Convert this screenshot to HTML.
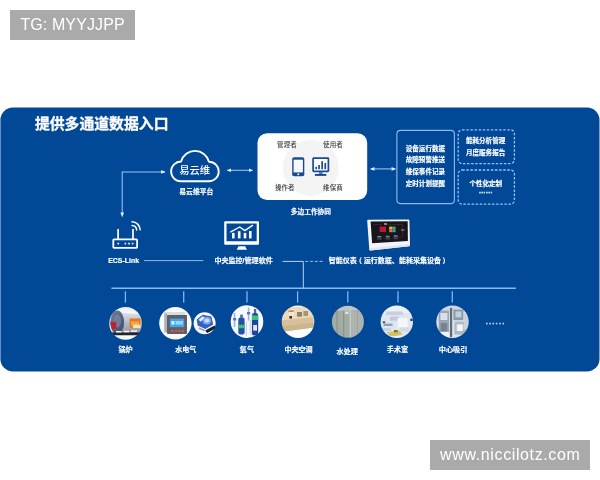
<!DOCTYPE html>
<html lang="zh-CN">
<head>
<meta charset="utf-8">
<title>提供多通道数据入口</title>
<style>
html,body{margin:0;padding:0;background:#fff;}
body{width:600px;height:480px;position:relative;overflow:hidden;font-family:"Liberation Sans","Noto Sans CJK SC",sans-serif;}
.badge{will-change:transform;position:absolute;background:#aaaaaa;color:#fff;font-size:16px;line-height:30px;text-align:center;white-space:nowrap;}
#b1{left:10px;top:10px;width:125px;height:30px;letter-spacing:0.11px;text-indent:0.1px;}
#b2{left:430px;top:440px;width:160px;height:30px;letter-spacing:0.62px;text-indent:0.6px;}
#diagram{position:absolute;left:0;top:0;width:600px;height:480px;will-change:transform;}
svg text{font-family:"Liberation Sans","Noto Sans CJK SC",sans-serif;}
.w{fill:#fff;font-weight:bold;text-anchor:middle;stroke:#fff;stroke-width:0.18px;paint-order:stroke;}
.g{fill:#404040;text-anchor:middle;font-weight:500;letter-spacing:0.1px;}
</style>
</head>
<body>
<svg id="diagram" width="600" height="480" viewBox="0 0 600 480">
  <defs>
    <marker id="ah" viewBox="0 0 6 6" refX="5.2" refY="3" markerWidth="4.6" markerHeight="4.4" orient="auto-start-reverse" markerUnits="userSpaceOnUse">
      <path d="M0,0.5 L6,3 L0,5.5 Z" fill="#e2eefe"/>
    </marker>
  </defs>
  <!-- panel -->
  <rect id="panel" x="0.4" y="107.5" width="599.1" height="264" rx="12.5" ry="12.5" fill="#014897"/>
  <text x="34.9" y="128.6" font-size="14.85" font-weight="bold" fill="#fff" stroke="#fff" stroke-width="0.3">提供多通道数据入口</text>


  <!-- connectors (top) -->
  <g fill="none" stroke="#9ac6fa" stroke-width="1.05">
    <path d="M165,171.9 H122.2 V216.4" marker-start="url(#ah)" marker-end="url(#ah)"/>
    <path d="M227.3,170.3 H252.5" marker-start="url(#ah)" marker-end="url(#ah)"/>
    <path d="M370.6,168.9 H395.4" marker-start="url(#ah)" marker-end="url(#ah)"/>
  </g>
  <!-- cloud -->
  <path d="M180.90,181.30 A9.9,9.9 0 1,1 181.11,161.50 A14.4,14.4 0 0,1 208.94,161.70 A9.8,9.8 0 1,1 208.90,181.30 Z" fill="none" stroke="#ffffff" stroke-width="1.9" stroke-linejoin="round"/>
  <text x="194.6" y="173.7" font-size="10.3" font-weight="500" fill="#fff" text-anchor="middle">易云维</text>
  <text class="w" x="196.3" y="193.5" font-size="6.8">易云维平台</text>

  <!-- collaboration card -->
  <rect x="257.5" y="133.2" width="109.7" height="66.8" rx="9.6" ry="9.6" fill="#ffffff"/>
  <circle cx="310.8" cy="168" r="28" fill="#f4f4f5"/>
  <text class="g" x="287" y="147.4" font-size="6.5">管理者</text>
  <text class="g" x="333" y="147.4" font-size="6.5">使用者</text>
  <text class="g" x="284.8" y="189.8" font-size="6.5">操作者</text>
  <text class="g" x="333" y="189.8" font-size="6.5">维保商</text>
  <!-- phone icon -->
  <g>
    <rect x="292.2" y="157.3" width="12.1" height="18.9" rx="1.8" fill="#1b4a95"/>
    <rect x="293.6" y="159.7" width="9.3" height="12.7" fill="#f6f8fc"/>
    <circle cx="298.25" cy="174.3" r="0.95" fill="#f6f8fc"/>
  </g>
  <!-- monitor icon -->
  <g>
    <rect x="313.1" y="158.1" width="15.3" height="13.2" rx="0.6" fill="#fbfcfe" stroke="#1b4a95" stroke-width="1.7"/>
    <rect x="315.3" y="166.9" width="1.7" height="2.3" fill="#1b4a95"/>
    <rect x="318.2" y="165" width="1.7" height="4.2" fill="#1b4a95"/>
    <rect x="321.3" y="161.2" width="1.7" height="8" fill="#1b4a95"/>
    <rect x="324.4" y="163" width="1.7" height="6.2" fill="#1b4a95"/>
    <rect x="319" y="172.1" width="3.6" height="2.2" fill="#4f74ae"/>
    <rect x="314.9" y="174" width="11.4" height="1.9" fill="#1b4a95"/>
  </g>
  <text class="w" x="310.9" y="214.3" font-size="6.7">多边工作协同</text>

  <!-- feature list -->
  <rect x="396.9" y="130.4" width="57.5" height="73.2" rx="3.5" ry="3.5" fill="none" stroke="#8fb8f0" stroke-width="1.1"/>
  <text class="w" x="425.4" y="150.8" font-size="6.55">设备运行数据</text>
  <text class="w" x="425.4" y="162.2" font-size="6.55">故障预警推送</text>
  <text class="w" x="425.4" y="174.1" font-size="6.55">维保事件记录</text>
  <text class="w" x="425.4" y="186" font-size="6.55">定时计划提醒</text>

  <rect x="458.2" y="129.8" width="56.2" height="33.8" rx="4" ry="4" fill="none" stroke="#93c3fb" stroke-width="1.3" stroke-dasharray="2.5 1.6"/>
  <text class="w" x="485.6" y="143" font-size="6.55">能耗分析管理</text>
  <text class="w" x="485.6" y="155" font-size="6.55">月度服务报告</text>
  <rect x="458.2" y="170" width="56.2" height="34.2" rx="4" ry="4" fill="none" stroke="#93c3fb" stroke-width="1.3" stroke-dasharray="2.5 1.6"/>
  <text class="w" x="485.8" y="185.5" font-size="6.55">个性化定制</text>
  <text class="w" x="485.9" y="195" font-size="6.6" letter-spacing="0.1" fill="#cfe3fd" style="fill:#d4e6fd;stroke:#d4e6fd;stroke-width:0.4px">······</text>

  <!-- router icon -->
  <g fill="none" stroke="#ffffff" stroke-width="1.7" stroke-linecap="round">
    <rect x="113.3" y="239.3" width="23.8" height="8.5" rx="0.7" stroke-width="1.8"/>
    <path d="M118.1,238.4 V229.6 M133,238.4 V229.6"/>
    <path d="M132.2,225.5 A4.7,4.7 0 0,1 136.6,230" stroke-width="1.5"/>
    <path d="M132,221.7 A8.5,8.5 0 0,1 140.2,229.8" stroke-width="1.5"/>
  </g>
  <g fill="#ffffff">
    <rect x="117.5" y="242.8" width="1.6" height="1.6"/>
    <rect x="124.6" y="242.8" width="1.6" height="1.6"/>
    <rect x="128.2" y="242.8" width="1.6" height="1.6"/>
    <rect x="131.8" y="242.8" width="1.6" height="1.6"/>
  </g>
  <text class="w" x="123.7" y="263" font-size="6.9" letter-spacing="0.05">ECS-Link</text>

  <!-- monitor icon -->
  <g>
    <path d="M225.2,221.2 H258 Q259,221.2 259,222.2 V243.8 Q259,244.8 258,244.8 H225.2 Q224.2,244.8 224.2,243.8 V222.2 Q224.2,221.2 225.2,221.2 Z M226.5,223.5 V241.3 H256.7 V223.5 Z" fill="#ffffff" fill-rule="evenodd"/>
    <path d="M238.5,246.2 H245.1 L247,249.7 H236.7 Z" fill="#ffffff"/>
    <rect x="232" y="232.9" width="2.6" height="5.5" fill="#fff"/>
    <rect x="237.9" y="231.2" width="2.6" height="7.2" fill="#fff"/>
    <rect x="243.7" y="232.9" width="2.6" height="5.5" fill="#fff"/>
    <rect x="249" y="231" width="2.6" height="7.4" fill="#fff"/>
    <path d="M230.8,231.9 L239.7,227 L244.8,230.6 L252.5,225.4" fill="none" stroke="#fff" stroke-width="1.4" stroke-linejoin="round" stroke-linecap="round"/>
  </g>
  <text class="w" x="243.6" y="263.4" font-size="7.05">中央监控/管理软件</text>

  <!-- meter device -->
  <g filter="url(#bl2)">
    <path d="M368.2,219.8 L408.4,219.5 Q409.3,219.5 409.4,220.5 L410,245.2 Q410,246.2 409,246.3 L370.6,250.5 Q369.5,250.6 369.3,249.5 L367.2,220.9 Q367.1,219.8 368.2,219.8 Z" fill="#f3f5fa"/>
    <path d="M369.7,248.2 L410,244 L410,245.2 Q410,246.2 409,246.3 L370.6,250.5 Q369.5,250.6 369.3,249.5 Z" fill="#dfe4ee"/>
    <path d="M370.6,221.6 L407.7,221.3 L407.9,241 L372.1,243.3 Z" fill="#17181e"/>
    <rect x="379.6" y="226.6" width="6.4" height="5.4" fill="#b81d33"/>
    <rect x="389.2" y="226.6" width="3.2" height="3" fill="#f0b428"/>
    <rect x="392.4" y="226.6" width="3.2" height="3" fill="#38b854"/>
    <rect x="389.2" y="229.6" width="3.2" height="2.6" fill="#e8703a"/>
    <rect x="392.4" y="229.6" width="3.2" height="2.6" fill="#3a98e4"/>
    <rect x="377" y="236" width="4.6" height="3.8" fill="#3b3e48"/>
    <rect x="385.4" y="235.8" width="4.6" height="3.8" fill="#3b3e48"/>
    <rect x="393.4" y="235.4" width="4.6" height="3.8" fill="#3b3e48"/>
    <rect x="377.6" y="236" width="3.4" height="1" fill="#8a8e98"/>
    <rect x="386" y="235.8" width="3.4" height="1" fill="#8a8e98"/>
    <rect x="394" y="235.4" width="3.4" height="1" fill="#8a8e98"/>
    <path d="M373.6,224.6 H382 M386,224.6 H402.6 V229 M402.6,231 V237 H398.6" fill="none" stroke="#6a2a30" stroke-width="0.5"/>
    <rect x="384" y="223.4" width="3" height="1.2" fill="#c8ccd4"/>
    <rect x="401" y="229" width="3.4" height="2" fill="#5a5e68"/>
  </g>
  <text class="w" x="328.7" y="263.4" font-size="7.03" style="text-anchor:start">智能仪表<tspan dx="-1.7">（</tspan><tspan dx="1.7">运行数据、能耗采集设备</tspan><tspan dx="1.6">）</tspan></text>

  <!-- connectors (mid) -->
  <g fill="none" stroke="#b9d3f7" stroke-width="0.8">
    <path d="M144,260.6 H203.4"/>
    <path d="M282.6,261.4 H303.3 V288" stroke="#cfe2fc" stroke-width="0.9"/>
    <path d="M305.2,261.4 H322.6" stroke="#a9cdfb" stroke-dasharray="3 1.8" stroke-width="0.9"/>
  </g>


  <!-- bus -->
  <g fill="none" stroke="#7fb6f9" stroke-width="1.3">
    <path d="M111.4,288.2 H515.8" stroke="#86baf9" stroke-width="1.5"/>
    <path d="M125.4,291.3 V302.6"/>
    <path d="M183.7,291.3 V302.6"/>
    <path d="M247,291.3 V302.6"/>
    <path d="M297.6,291.3 V302.6"/>
    <path d="M347.8,291.3 V302.6"/>
    <path d="M398,291.3 V302.6"/>
    <path d="M452.3,291.3 V302.6"/>
  </g>
  <defs>
    <filter id="bl2" x="-10%" y="-10%" width="120%" height="120%"><feGaussianBlur stdDeviation="0.35"/></filter>
    <filter id="bl" x="-10%" y="-10%" width="120%" height="120%"><feGaussianBlur stdDeviation="0.6"/></filter>
    <linearGradient id="gBody" x1="0" y1="0" x2="0" y2="1"><stop offset="0" stop-color="#e6e8ed"/><stop offset="0.45" stop-color="#bcc0ca"/><stop offset="1" stop-color="#8c909a"/></linearGradient>
    <linearGradient id="gCap" x1="0" y1="0" x2="1" y2="1"><stop offset="0" stop-color="#76819a"/><stop offset="1" stop-color="#3b4966"/></linearGradient>
    <clipPath id="c1"><circle cx="125.6" cy="323.4" r="16.3"/></clipPath>
    <clipPath id="c2"><circle cx="175.4" cy="323.3" r="16.2"/></clipPath>
    <clipPath id="c3"><circle cx="204.6" cy="323.3" r="11"/></clipPath>
    <clipPath id="c4"><circle cx="247" cy="321.6" r="16.3"/></clipPath>
    <clipPath id="c5"><circle cx="298" cy="321.7" r="16.3"/></clipPath>
    <clipPath id="c6"><circle cx="347.9" cy="321.7" r="16"/></clipPath>
    <clipPath id="c7"><circle cx="396.8" cy="321.7" r="16.2"/></clipPath>
    <clipPath id="c8"><circle cx="452.5" cy="321.8" r="16.2"/></clipPath>
  </defs>
  <!-- boiler -->
  <g clip-path="url(#c1)"><g filter="url(#bl)">
    <rect x="108" y="306" width="36" height="36" fill="#ecf1f8"/>
    <path d="M118,310.6 L143,314.2 L143,332.4 L118,334.6 Z" fill="url(#gBody)"/>
    <path d="M118,309.8 L134,310.6 L143,314.4 L121,312.8 Z" fill="#f4f6f9"/>
    <ellipse cx="117.2" cy="322.4" rx="6.9" ry="11.8" fill="url(#gCap)"/>
    <ellipse cx="117.4" cy="321" rx="3.6" ry="6.4" fill="#7c879f" opacity="0.7"/>
    <rect x="129.6" y="318.4" width="10.8" height="9.4" fill="#e27a26"/>
    <rect x="131" y="321.4" width="8" height="4.4" fill="#f6a63c"/>
    <rect x="133" y="324.6" width="7.6" height="3.4" fill="#f5e2b4"/>
    <path d="M110,322.4 L116,321.8 L116.4,328.4 L112,329.6 Z" fill="#c2202f"/>
    <rect x="110" y="332.4" width="33" height="3" fill="#23262f"/>
    <rect x="116" y="331" width="5.6" height="1.5" fill="#f6f6f6"/>
    <rect x="123.6" y="330.8" width="5.6" height="1.5" fill="#f6f6f6"/>
    <rect x="131" y="330.4" width="6" height="1.5" fill="#f6f6f6"/>
    <rect x="114" y="335.6" width="26" height="5" fill="#f6f8fc"/>
  </g></g>
  <!-- power meter -->
  <g clip-path="url(#c2)"><g filter="url(#bl)">
    <rect x="158" y="306" width="35" height="35" fill="#fafbfc"/>
    <rect x="164.2" y="312" width="21" height="4" fill="#d9dce0"/>
    <rect x="164.2" y="313.4" width="2.8" height="19" fill="#aeb2b9"/>
    <rect x="167" y="315" width="20" height="19" rx="0.8" fill="#5d6067"/>
    <rect x="169.8" y="318.6" width="14.4" height="8.6" fill="#3fa6ee"/>
    <rect x="171.4" y="321" width="3" height="3.6" fill="#d7efff"/>
    <rect x="175.6" y="321" width="7.4" height="3.6" fill="#9ad4ff"/>
    <rect x="171" y="329.8" width="2.3" height="2.1" fill="#e4573f"/>
    <rect x="174.6" y="329.8" width="2.3" height="2.1" fill="#e4573f"/>
    <rect x="178.2" y="329.8" width="2.3" height="2.1" fill="#e4573f"/>
    <rect x="181.8" y="329.8" width="2.3" height="2.1" fill="#e4573f"/>
  </g></g>
  <!-- water meter -->
  <g clip-path="url(#c3)"><g filter="url(#bl)">
    <rect x="192" y="311" width="26" height="26" fill="#f8fafd"/>
    <path d="M196.6,319.6 L202.6,314.8 L211.4,316.6 L213.2,324.4 L205.4,329 L197.6,325.6 Z" fill="#3560c4"/>
    <ellipse cx="206.8" cy="320.8" rx="4.3" ry="3.7" fill="#7fa6ec"/>
    <ellipse cx="207" cy="320.6" rx="2.4" ry="2" fill="#c9dcfa"/>
    <path d="M198.4,319.8 L202.6,316.2 L204.8,317.6 L200.8,321.8 Z" fill="#dfe9fb"/>
    <path d="M205.2,330.4 L214.4,325.4 L216,328.2 L207.2,333 Z" fill="#1a1f2c"/>
    <path d="M199,327 L205,330 L204.6,331.6 L198.6,329 Z" fill="#8fa4c8"/>
  </g></g>
  <!-- oxygen -->
  <g clip-path="url(#c4)"><g filter="url(#bl)">
    <rect x="229" y="304" width="36" height="36" fill="#f8fafe"/>
    <rect x="233.8" y="313" width="1.6" height="14" fill="#9db2e2"/>
    <rect x="233" y="318" width="3.2" height="2.4" fill="#5a74be"/>
    <rect x="247.8" y="307.6" width="1.6" height="13" fill="#9db2e2"/>
    <rect x="247" y="312" width="3.2" height="2.4" fill="#5a74be"/>
    <rect x="238.3" y="317.6" width="6.3" height="17" rx="2" fill="#2650a8"/>
    <rect x="238.3" y="324.8" width="6.3" height="3.4" fill="#36c47a"/>
    <rect x="240.2" y="314.6" width="2.6" height="3.6" fill="#4a68b8"/>
    <rect x="251.9" y="313" width="6.3" height="22.6" rx="2.4" fill="#1f46a0"/>
    <rect x="251.9" y="315.4" width="6.3" height="4.6" fill="#36c47a"/>
    <rect x="253.2" y="325" width="3.8" height="5.6" fill="#e3e9f6"/>
    <rect x="253.9" y="309" width="2.3" height="4.2" fill="#56668c"/>
    <rect x="245.8" y="322" width="1.1" height="14" fill="#c3cfec"/>
    <rect x="249.6" y="320" width="1.1" height="15" fill="#c3cfec"/>
  </g></g>
  <!-- chiller -->
  <g clip-path="url(#c5)"><g filter="url(#bl)">
    <rect x="280" y="304" width="36" height="36" fill="#fcfcfc"/>
    <path d="M280,308 L308,306 L313,311 L313,319 L280,322 Z" fill="#ead9bb"/>
    <path d="M280,320.4 L313.6,317 L313.6,327.6 L284,331.4 L280,331 Z" fill="#d8c19a"/>
    <path d="M282,326.4 L313.6,322.6 L313.6,327.6 L284,331.4 Z" fill="#ccb48c"/>
    <rect x="297" y="312" width="5" height="4.6" fill="#8d7f6b"/>
    <rect x="303.4" y="311" width="4.6" height="5" fill="#a39580"/>
    <rect x="289.4" y="316" width="2.6" height="2.6" fill="#3a3430"/>
    <rect x="288.6" y="310.4" width="5" height="1.6" fill="#dc7464"/>
    <rect x="288.6" y="312" width="5.6" height="3.6" fill="#f2e8d6"/>
  </g></g>
  <!-- water treatment -->
  <g clip-path="url(#c6)"><g filter="url(#bl)">
    <rect x="330" y="304" width="36" height="36" fill="#a3aba5"/>
    <rect x="330" y="304" width="36" height="6.6" fill="#bdc5c6"/>
    <rect x="336.4" y="311" width="1.3" height="27" fill="#8c948e"/>
    <rect x="343" y="311" width="1.3" height="27" fill="#8c948e"/>
    <rect x="345" y="311.6" width="3.6" height="2.4" fill="#d9dfe0"/>
    <rect x="349.6" y="307" width="1.7" height="32" fill="#c5cbc8"/>
    <rect x="351.3" y="310" width="14" height="29" fill="#adb4af"/>
    <rect x="357" y="310" width="1" height="29" fill="#9aa29c"/>
  </g></g>
  <!-- operating room -->
  <g clip-path="url(#c7)"><g filter="url(#bl)">
    <rect x="379" y="304" width="36" height="36" fill="#dfe6ef"/>
    <rect x="379" y="304" width="36" height="9" fill="#edf1f7"/>
    <rect x="386" y="311.4" width="17" height="3.6" fill="#c9d1de"/>
    <rect x="390" y="316.6" width="9" height="4" fill="#c0cad9"/>
    <rect x="382.8" y="321.4" width="2.4" height="1.8" fill="#39435a"/>
    <rect x="383.6" y="323.6" width="9" height="2.4" fill="#95a0b5"/>
    <rect x="397.6" y="318" width="10" height="9.6" fill="#f4f6fa"/>
    <rect x="400" y="327.4" width="9" height="4" fill="#d3dae6"/>
    <rect x="381" y="328" width="10" height="3" fill="#c5d3e6"/>
    <path d="M386.6,332.4 L399,330.6 L402.6,334.6 L391,337 Z" fill="#d9c25e"/>
    <rect x="394" y="330" width="3.6" height="2.4" fill="#77744f"/>
    <rect x="410.4" y="318.6" width="2.2" height="2.4" fill="#2a3348"/>
    <rect x="384" y="336" width="26" height="4" fill="#e9eef5"/>
  </g></g>
  <!-- central suction -->
  <g clip-path="url(#c8)"><g filter="url(#bl)">
    <rect x="435" y="304" width="36" height="36" fill="#dfe5ec"/>
    <rect x="435" y="304" width="36" height="7" fill="#cdd6e0"/>
    <rect x="438.6" y="310.6" width="10.6" height="25" fill="#98a6b6"/>
    <rect x="440.4" y="313" width="7" height="7" fill="#d9e0e9"/>
    <rect x="440.6" y="323" width="6.6" height="8" fill="#74838f"/>
    <rect x="450" y="308" width="2.2" height="29" fill="#5f6b7a"/>
    <rect x="453.4" y="309.6" width="10" height="10.6" fill="#8a98a9"/>
    <rect x="455.4" y="311.4" width="6" height="6" fill="#c6d0db"/>
    <rect x="454.4" y="321.6" width="11.4" height="13" fill="#adb9c6"/>
    <rect x="456.8" y="324.4" width="6" height="6.6" fill="#f3f6f9"/>
    <rect x="463.6" y="313" width="4.4" height="16" fill="#cbd3dc"/>
    <rect x="440" y="332" width="9" height="5" fill="#eef1f5"/>
  </g></g>
  <text x="485.7" y="325.6" font-size="7.4" font-weight="bold" letter-spacing="0.84" style="fill:#b9d6fc;stroke:#b9d6fc;stroke-width:0.45px">······</text>
  <text class="w" x="125.6" y="351.8" font-size="7.05">锅炉</text>
  <text class="w" x="185.8" y="351.8" font-size="7.05">水电气</text>
  <text class="w" x="246.9" y="351.8" font-size="7.05">氧气</text>
  <text class="w" x="298.5" y="351.8" font-size="7.05">中央空调</text>
  <text class="w" x="347.2" y="353.4" font-size="7.15" dy="0.7">水处理</text>
  <text class="w" x="397.4" y="351.4" font-size="7.15" dy="0.9">手术室</text>
  <text class="w" x="453.1" y="351.4" font-size="7.15" dy="0.7">中心吸引</text>

</svg>
<div class="badge" id="b1">TG: MYYJJPP</div>
<div class="badge" id="b2">www.niccilotz.com</div>
</body>
</html>
